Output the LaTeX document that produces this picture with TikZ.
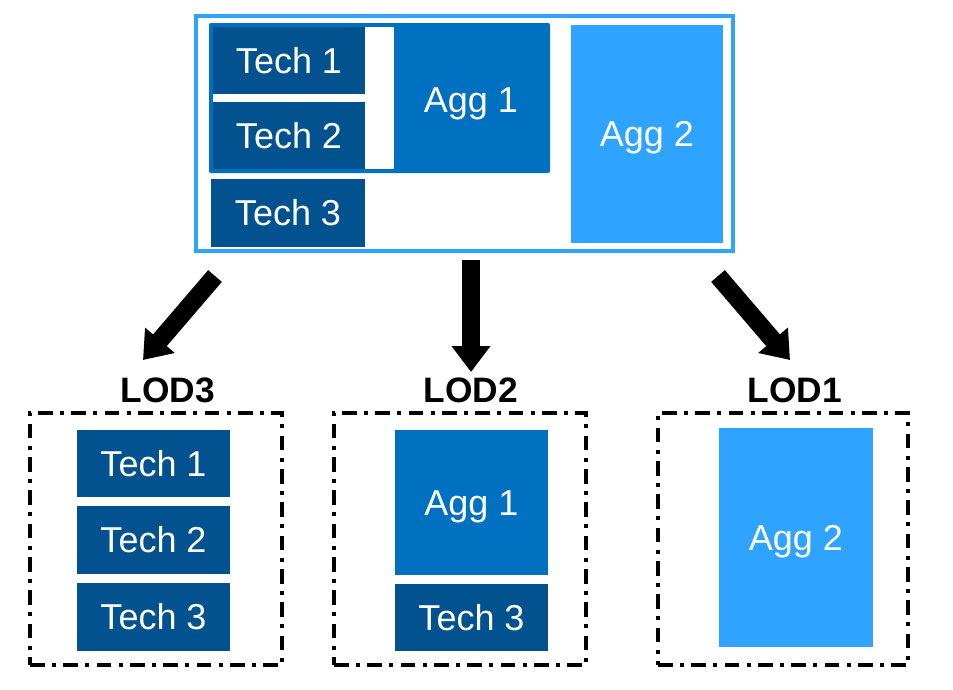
\documentclass[tikz,border=0pt]{standalone}
\usepackage{fontspec}
\setmainfont{Liberation Sans}
\usetikzlibrary{arrows.meta,fit}
\definecolor{techblue}{HTML}{02528F}
\definecolor{aggone}{HTML}{0070C0}
\definecolor{aggtwo}{HTML}{2EA3FF}
\tikzset{
  boxtext/.style={inner sep=0pt, text=white, font=\fontsize{27}{32}\selectfont, text height=19.3pt, text depth=0pt},
  box/.style={inner sep=0pt},
  techbox/.style={box, fill=techblue},
  aggonebox/.style={box, fill=aggone},
  aggtwobox/.style={box, fill=aggtwo},
  lodlabel/.style={font=\fontsize{26.5}{31}\selectfont\bfseries, inner sep=0pt, text height=19pt, text depth=0pt},
  lodframe/.style={draw=black, line width=3pt, dash pattern=on 11pt off 5.5pt on 3pt off 5.5pt, inner sep=0pt},
  bigarrow/.style={line width=13.5pt, -{Triangle[length=19.5pt,width=28pt]}}
}
\begin{document}
\begin{tikzpicture}[x=0.75pt,y=-0.75pt]
\useasboundingbox (0,0) rectangle (953,689);
% top composite
\node[draw=aggtwo, line width=3pt, fit={(196,16)(733,251)}, inner sep=0pt] (frame) {};
\node[fill=aggone, rounded corners=1.5pt, fit={(209,23)(550,173)}, inner sep=0pt] (agggroup) {};
\node[fill=white, fit={(213,27)(394,169)}, inner sep=0pt] (gap) {};
\node[techbox, fit={(213,27)(365,94)}, label={[boxtext]center:Tech 1}] (t1) {};
\node[techbox, fit={(213,102)(365,169)}, label={[boxtext]center:Tech 2}] (t2) {};
\node[techbox, fit={(211,179)(365,247)}, label={[boxtext]center:Tech 3}] (t3) {};
\node[boxtext] (a1label) at (471,100) {Agg 1};
\node[aggtwobox, fit={(571,25)(723,243)}, label={[boxtext]center:Agg 2}] (a2) {};
% arrows
\coordinate (s3) at (215,276);
\coordinate (e3) at (143,360);
\coordinate (s2) at (471,260);
\coordinate (e2) at (471,372);
\coordinate (s1) at (718,276);
\coordinate (e1) at (790,360);
\draw[bigarrow] (s3) -- (e3);
\draw[bigarrow] (s2) -- (e2);
\draw[bigarrow] (s1) -- (e1);
% labels
\node[lodlabel] (l3) at (168,390) {LOD3};
\node[lodlabel] (l2) at (471,390) {LOD2};
\node[lodlabel] (l1) at (795,390) {LOD1};
% LOD3
\node[lodframe, fit={(30,413)(282,665)}] (f3) {};
\node[techbox, fit={(77,430)(230,497)}, label={[boxtext]center:Tech 1}] (lt1) {};
\node[techbox, fit={(77,506)(230,574)}, label={[boxtext]center:Tech 2}] (lt2) {};
\node[techbox, fit={(77,583)(230,651)}, label={[boxtext]center:Tech 3}] (lt3) {};
% LOD2
\node[lodframe, fit={(334,413)(586,665)}] (f2) {};
\node[aggonebox, fit={(395,430)(548,575)}, label={[boxtext]center:Agg 1}] (la1) {};
\node[techbox, fit={(395,584)(548,651)}, label={[boxtext]center:Tech 3}] (lt3b) {};
% LOD1
\node[lodframe, fit={(658,413)(908,665)}] (f1) {};
\node[aggtwobox, fit={(719,428)(873,647)}, label={[boxtext]center:Agg 2}] (la2) {};
\end{tikzpicture}
\end{document}
